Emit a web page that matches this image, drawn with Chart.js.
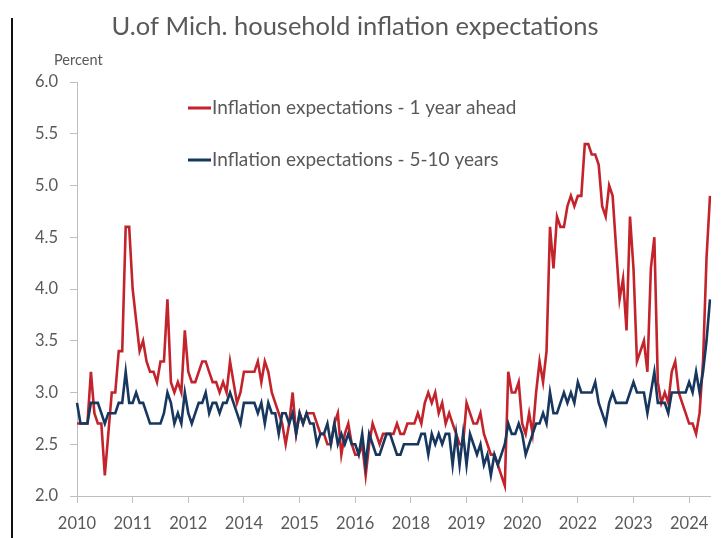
<!DOCTYPE html>
<html><head><meta charset="utf-8">
<script src="https://cdn.jsdelivr.net/npm/chart.js@4.4.1/dist/chart.umd.min.js"></script>
<style>
html,body{margin:0;padding:0;background:#fff;}
#wrap{position:relative;width:725px;height:538px;overflow:hidden;}
#edge{position:absolute;left:11px;top:18px;width:2px;height:520px;background:#111;}
canvas{position:absolute;left:0;top:0;}
</style></head><body>
<div id="wrap"><canvas id="c" width="725" height="538"></canvas><div id="edge"></div></div>
<script>
// ---- data ----
const startYear = 2010;          // first month: Jan 2010
const monthCount = 183;          // Jan 2010 .. Mar 2025
const categories = [];
for (let i = 0; i < monthCount; i++) {
  const y = startYear + Math.floor(i / 12), m = (i % 12) + 1;
  categories.push(y + '-' + String(m).padStart(2, '0'));
}
// labelled ticks, one every 16 months starting at Jan 2010
const tickEvery = 16;
const tickLabels = ["2010","2011","2012","2014","2015","2016","2018","2019","2020","2022","2023","2024"];

const oneYearAhead = [
  2.7,2.7,2.7,2.7,3.2,2.8,2.7,2.7,2.2,2.6,3.0,3.0,   // 2010
  3.4,3.4,4.6,4.6,4.0,3.7,3.4,3.5,3.3,3.2,3.2,3.1,   // 2011
  3.3,3.3,3.9,3.1,3.0,3.1,3.0,3.6,3.2,3.1,3.1,3.2,   // 2012
  3.3,3.3,3.2,3.1,3.1,3.0,3.1,3.0,3.3,3.1,2.9,3.0,   // 2013
  3.2,3.2,3.2,3.2,3.3,3.1,3.3,3.2,3.0,2.9,2.8,2.7,   // 2014
  2.5,2.7,3.0,2.6,2.8,2.7,2.8,2.8,2.8,2.7,2.6,2.6,   // 2015
  2.5,2.5,2.7,2.8,2.4,2.6,2.7,2.5,2.4,2.4,2.5,2.2,   // 2016
  2.5,2.7,2.6,2.5,2.6,2.6,2.6,2.6,2.7,2.6,2.6,2.7,   // 2017
  2.7,2.7,2.8,2.7,2.9,3.0,2.9,3.0,2.8,2.9,2.7,2.8,   // 2018
  2.7,2.6,2.5,2.5,2.9,2.8,2.7,2.7,2.8,2.6,2.5,2.4,   // 2019
  2.4,2.3,2.2,2.1,3.2,3.0,3.0,3.1,2.7,2.6,2.8,2.6,   // 2020
  3.0,3.3,3.1,3.4,4.6,4.2,4.7,4.6,4.6,4.8,4.9,4.8,   // 2021
  4.9,4.9,5.4,5.4,5.3,5.3,5.2,4.8,4.7,5.0,4.9,4.4,   // 2022
  3.9,4.1,3.6,4.7,4.2,3.3,3.4,3.5,3.2,4.2,4.5,3.1,   // 2023
  2.9,3.0,2.9,3.2,3.3,3.0,2.9,2.8,2.7,2.7,2.6,2.8,   // 2024
  3.3,4.3,4.9                                        // 2025
];
const fiveToTenYears = [
  2.9,2.7,2.7,2.7,2.9,2.9,2.9,2.8,2.7,2.8,2.8,2.8,   // 2010
  2.9,2.9,3.2,2.9,2.9,3.0,2.9,2.9,2.8,2.7,2.7,2.7,   // 2011
  2.7,2.8,3.0,2.9,2.7,2.8,2.7,3.0,2.8,2.7,2.8,2.9,   // 2012
  2.9,3.0,2.8,2.9,2.9,2.8,2.9,2.9,3.0,2.9,2.8,2.7,   // 2013
  2.9,2.9,2.9,2.9,2.8,2.9,2.7,2.9,2.8,2.8,2.6,2.8,   // 2014
  2.8,2.7,2.8,2.6,2.8,2.7,2.8,2.7,2.7,2.5,2.6,2.6,   // 2015
  2.7,2.5,2.7,2.5,2.6,2.5,2.6,2.5,2.5,2.4,2.6,2.3,   // 2016
  2.6,2.5,2.4,2.4,2.5,2.6,2.6,2.5,2.4,2.4,2.5,2.5,   // 2017
  2.5,2.5,2.5,2.6,2.6,2.4,2.6,2.5,2.6,2.5,2.6,2.6,   // 2018
  2.3,2.6,2.3,2.6,2.3,2.6,2.5,2.4,2.5,2.3,2.4,2.2,   // 2019
  2.4,2.3,2.4,2.5,2.7,2.6,2.6,2.7,2.6,2.4,2.5,2.6,   // 2020
  2.7,2.7,2.8,2.7,3.0,2.8,2.8,2.9,3.0,2.9,3.0,2.9,   // 2021
  3.1,3.0,3.0,3.0,3.0,3.1,2.9,2.8,2.7,2.9,3.0,2.9,   // 2022
  2.9,2.9,2.9,3.0,3.1,3.0,3.0,3.0,2.8,3.0,3.2,2.9,   // 2023
  2.9,2.9,2.8,3.0,3.0,3.0,3.0,3.0,3.1,3.0,3.2,3.0,   // 2024
  3.2,3.5,3.9                                        // 2025
];
const seriesNames = ["Inflation expectations - 1 year ahead", "Inflation expectations - 5-10 years"];
const yTicks = { min: 2.0, max: 6.0, step: 0.5 };
const titleText = "U.of Mich. household inflation expectations";
const unitText = "Percent";

// ---- styling ----
const TXT = '#595959', AX = '#bfbfbf';
const RED = '#c3232b', BLUE = '#17375e';
const FONT = 'Lato';

const overlay = {
  id: 'overlay',
  afterDraw(chart) {
    const ctx = chart.ctx;
    ctx.save();
    ctx.fillStyle = TXT;
    ctx.textBaseline = 'middle';
    ctx.textAlign = 'left';
    ctx.font = '14.5px ' + FONT;
    ctx.fillText(unitText, 54, 60);
    const rows = [108, 160];
    chart.data.datasets.forEach((ds, i) => {
      const y = rows[i];
      ctx.strokeStyle = ds.borderColor;
      ctx.lineWidth = 3;
      ctx.beginPath(); ctx.moveTo(188, y); ctx.lineTo(211, y); ctx.stroke();
      ctx.font = '19px ' + FONT;
      ctx.fillStyle = TXT;
      ctx.fillText(ds.label, 212, y);
    });
    ctx.restore();
  }
};

new Chart(document.getElementById('c'), {
  type: 'line',
  data: {
    labels: categories,
    datasets: [
      { label: seriesNames[0], data: oneYearAhead, borderColor: RED, backgroundColor: RED,
        borderWidth: 2.6, pointRadius: 0, tension: 0, order: 2 },
      { label: seriesNames[1], data: fiveToTenYears, borderColor: BLUE, backgroundColor: BLUE,
        borderWidth: 2.6, pointRadius: 0, tension: 0, order: 1 }
    ]
  },
  options: {
    responsive: false,
    devicePixelRatio: 1,
    animation: false,
    layout: { padding: { left: 0, right: 15, top: 0, bottom: 0 } },
    plugins: {
      legend: { display: false },
      tooltip: { enabled: false },
      title: { display: true, text: titleText, color: TXT,
               font: { family: FONT, size: 25.5, weight: 'normal' },
               padding: { top: 11.7, bottom: 39.7 } }
    },
    scales: {
      x: {
        type: 'category',
        offset: false,
        grid: { display: true, drawOnChartArea: false, drawTicks: true, tickLength: 7, color: AX },
        border: { display: true, color: AX },
        afterFit(s) { s.height = 42; },
        ticks: {
          autoSkip: false, maxRotation: 0, minRotation: 0, padding: 11,
          color: TXT, font: { family: FONT, size: 16.5 },
          callback(v, i) { return i % tickEvery === 0 ? tickLabels[i / tickEvery] : null; }
        }
      },
      y: {
        min: yTicks.min, max: yTicks.max,
        grid: { display: true, drawOnChartArea: false, drawTicks: true, tickLength: 7, color: AX },
        border: { display: true, color: AX },
        afterFit(s) { s.width = 77; },
        ticks: { stepSize: yTicks.step, padding: 12, color: TXT, font: { family: FONT, size: 16.5 },
                 callback(v) { return Number(v).toFixed(1); } }
      }
    }
  },
  plugins: [overlay]
});
</script>
</body></html>
